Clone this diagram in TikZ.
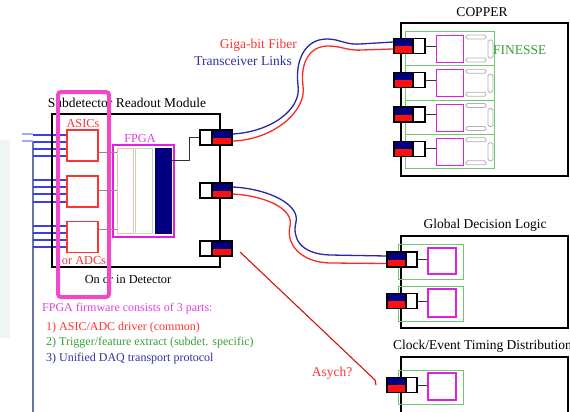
\documentclass[tikz,border=0pt]{standalone}
\usepackage{fontspec}
\setmainfont{Liberation Serif}
\definecolor{navyc}{HTML}{000080}
\definecolor{redc}{HTML}{FF1010}
\definecolor{redT}{HTML}{FF3333}
\definecolor{magT}{HTML}{E040E0}
\definecolor{magB}{HTML}{E020E0}
\definecolor{pinkR}{HTML}{F048C8}
\definecolor{greenT}{HTML}{38A038}
\definecolor{greenB}{HTML}{70C870}
\definecolor{blueT}{HTML}{3030A0}
\definecolor{fibB}{HTML}{2828A8}
\definecolor{fibR}{HTML}{FF2828}
\definecolor{inB}{HTML}{3C3CF0}
\definecolor{inL}{HTML}{A8A8F0}
\definecolor{busC}{HTML}{6878A0}
\definecolor{panelC}{HTML}{EEF6F1}
\begin{document}
\begin{tikzpicture}[x=1pt,y=-1pt,
  conn/.style={draw=black, line width=1.3pt, minimum width=31pt, minimum height=15pt, inner sep=0pt, fill=white},
  connR/.style={conn, path picture={
     \fill[navyc] ([xshift=-20pt]path picture bounding box.north east) rectangle (path picture bounding box.east);
     \fill[redc] ([xshift=-20pt]path picture bounding box.east) rectangle (path picture bounding box.south east);
     \draw[line width=1.3pt] ([xshift=-20pt]path picture bounding box.north east) -- ([xshift=-20pt]path picture bounding box.south east);}},
  connL/.style={conn, path picture={
     \fill[navyc] (path picture bounding box.north west) rectangle ([xshift=19pt]path picture bounding box.west);
     \fill[redc] (path picture bounding box.west) rectangle ([xshift=19pt]path picture bounding box.south west);
     \draw[line width=1.3pt] ([xshift=19pt]path picture bounding box.north west) -- ([xshift=19pt]path picture bounding box.south west);}},
  bigbox/.style={draw=black, line width=1.8pt, inner sep=0pt},
  asic/.style={draw=redT, line width=1.2pt, minimum width=31pt, minimum height=31pt, inner sep=0pt},
  slot/.style={draw=greenB, line width=1pt, inner sep=0pt},
  fin/.style={draw=magB, line width=1.2pt, inner sep=0pt},
  grayr/.style={draw=black!30, line width=0.8pt, rounded corners=1.5pt},
  ttl/.style={font=\fontsize{13.5}{15}\selectfont, inner sep=0pt},
  mid/.style={font=\fontsize{12.3}{14}\selectfont, inner sep=0pt},
  small/.style={font=\fontsize{12}{14}\selectfont, inner sep=0pt, anchor=west},
  fibb/.style={draw=fibB, line width=1.3pt},
  fibr/.style={draw=fibR, line width=1.3pt},
  inl/.style={draw=inB, line width=1.3pt},
  inll/.style={draw=inL, line width=1.3pt}
]
\useasboundingbox (0,0) rectangle (570,412);
\fill[white] (0,0) rectangle (570,412);
% left panel and bus
\fill[panelC] (0,140) rectangle (10,338);
\draw[busC, line width=1.3pt] (33,141) coordinate (bustop) -- (33,412) coordinate (busbot);
% ASICs
\node[asic] (a1) at (82.5,145.5) {};
\node[asic] (a2) at (82.5,191.5) {};
\node[asic] (a3) at (82.5,237) {};
% input lines
\draw[inll] (22,134) -- (33,134);
\draw[inll] (22,141) -- (33,141);
\foreach \y in {135,142,149,156} \draw[inl] (bustop |- 0,\y) -- (a1.west |- 0,\y);
\foreach \y in {180,187,194,202} \draw[inl] (bustop |- 0,\y) -- (a2.west |- 0,\y);
\foreach \y in {226,233,240,247} \draw[inl] (bustop |- 0,\y) -- (a3.west |- 0,\y);
% module
\node[bigbox, minimum width=168pt, minimum height=153pt] (mod) at (136,190.5) {};
% FPGA
\node[draw=magB, line width=1.2pt, minimum width=61pt, minimum height=92pt, inner sep=0pt] (fp) at (143.5,191) {};
\node[draw=red!30, line width=1pt, minimum width=16pt, minimum height=85pt, inner sep=0pt] (col1) at (125,190.5) {};
\node[draw=green!60!black!30, line width=1pt, minimum width=17pt, minimum height=85pt, inner sep=0pt] (col2) at (143.5,190.5) {};
\node[fill=navyc, draw=navyc, minimum width=16pt, minimum height=85pt, inner sep=0pt] (col3) at (163,190.5) {};
% gray links ASIC -> FPGA
\draw[black!45, line width=0.8pt] (a1.east |- 0,152) -- (col1.west |- 0,152);
\draw[black!45, line width=0.8pt] (a2.east |- 0,190) -- (col1.west |- 0,190);
\draw[black!45, line width=0.8pt] (a3.east |- 0,229) -- (col1.west |- 0,229);
% module connectors
\node[connR, minimum width=32pt] (m1) at (216,137.5) {};
\node[connR, minimum width=32pt] (m2) at (216,190.5) {};
\node[connR, minimum width=32pt] (m3) at (216,248.5) {};
\draw[black!80, line width=0.9pt] (col3.east |- 0,160) -- (189,160) -- (189,137.5) -- (m1.west);
% COPPER
\node[bigbox, minimum width=167pt, minimum height=153pt] (cop) at (484.5,99.5) {};
\foreach \i in {1,2,3,4}{
  \pgfmathsetmacro{\t}{31+34.25*(\i-1)}
  \node[slot, minimum width=89pt, minimum height=34.25pt, anchor=north west] (cs\i) at (405,\t) {};
  \node[fin, minimum width=27pt, minimum height=27pt, anchor=north west] (cf\i) at (436,\t+4) {};
  \draw[grayr] (466,\t+4) rectangle (486,\t+8);
  \draw[grayr] (466,\t+27) rectangle (486,\t+31);
  \draw[grayr] (488,\t+9) rectangle (493,\t+27);
  \node[connL] (c\i) at (409.5,\t+15) {};
  \draw[black!80, line width=0.9pt] (c\i.east) -- (c\i.east -| cf\i.west);
}
% GDL
\node[bigbox, minimum width=167pt, minimum height=92pt] (gdl) at (484.5,282) {};
\node[slot, minimum width=65pt, minimum height=35pt, anchor=north west] (gs1) at (398,244) {};
\node[slot, minimum width=65pt, minimum height=35pt, anchor=north west] (gs2) at (398,286) {};
\node[fin, minimum width=28pt, minimum height=26pt] (gf1) at (442,261) {};
\node[fin, minimum width=28pt, minimum height=28pt] (gf2) at (442,303) {};
\node[connL, minimum width=30pt] (g1) at (402,259.5) {};
\node[connL, minimum width=30pt] (g2) at (402,301) {};
\draw[black!80, line width=0.9pt] (g1.east) -- (g1.east -| gf1.west);
\draw[black!80, line width=0.9pt] (g2.east) -- (g2.east -| gf2.west);
% Clock
\node[bigbox, minimum width=167pt, minimum height=73pt] (clk) at (484.5,393.5) {};
\node[slot, minimum width=65pt, minimum height=34pt, anchor=north west] (ks1) at (398,370) {};
\node[fin, minimum width=28pt, minimum height=27pt] (kf1) at (442,386.5) {};
\node[connL, minimum width=30pt] (k1) at (402,385) {};
\draw[black!80, line width=0.9pt] (k1.east) -- (k1.east -| kf1.west);
% fibers
\draw[fibb] ([yshift=3.5pt]m1.east) .. controls (270,132) and (302,110) .. (298,85)
   .. controls (295,60) and (305,39) .. (327,39) .. controls (340,39) and (345,45) .. (360,44) -- ([yshift=4pt]c1.west);
\draw[fibr] ([yshift=-3.5pt]m1.east) .. controls (272,140) and (307,112) .. (303,86)
   .. controls (300,62) and (310,46) .. (328,46) .. controls (342,46) and (347,51) .. (362,50) -- ([yshift=-3pt]c1.west);
\draw[fibb] ([yshift=3.5pt]m2.east) .. controls (270,189) and (300,205) .. (296,222)
   .. controls (292,238) and (300,254) .. (330,255) -- ([yshift=3.5pt]g1.west);
\draw[fibr] ([yshift=-3.5pt]m2.east) .. controls (268,196) and (294,210) .. (290,226)
   .. controls (286,242) and (298,262) .. (330,263) -- ([yshift=-4pt]g1.west);
% redraw connector ends on top
\node[connR, minimum width=32pt] at (m1) {};
\node[connR, minimum width=32pt] at (m2) {};
\node[connL] at (c1) {};
\node[connL, minimum width=30pt] at (g1) {};
% Asych line
\coordinate (as1) at (240,252);
\coordinate (as2) at (375,380);
\coordinate (as3) at (376,385);
\draw[redc!85!black, line width=1.1pt] (as1) -- (as2) -- (as3);
% texts
\node[ttl] (tmod) at (127,103) {Subdetector Readout Module};
\node[mid, text=redT] (tasic) at (83,123) {ASICs};
\node[mid, text=redT] (tadc) at (84,260) {or ADCs};
\node[mid] (tdet) at (128,279) {On or in Detector};
\node[mid, text=magT] (tfpga) at (140,138) {FPGA};
\node[ttl, text=redT, anchor=east] (tgiga) at (297,45) {Giga-bit Fiber};
\node[ttl, text=blueT, anchor=east] (ttrans) at (292,61) {Transceiver Links};
\node[ttl] (tcop) at (482,12) {COPPER};
\node[ttl, text=greenT, anchor=west] (tfin) at (493,50) {FINESSE};
\node[ttl] (tgdl) at (485,225) {Global Decision Logic};
\node[ttl, anchor=west] (tclk) at (393,346) {Clock/Event Timing Distribution};
\node[ttl, text=redT] (tasy) at (332,373) {Asych?};
\node[small, text=magT] (f0) at (42,309) {FPGA firmware consists of 3 parts:};
\node[small, text=redT] (f1) at (46,328) {1) ASIC/ADC driver (common)};
\node[small, text=greenT] (f2) at (46,343) {2) Trigger/feature extract (subdet. specific)};
\node[small, text=blueT] (f3) at (46,359) {3) Unified DAQ transport protocol};
% pink highlight
\draw[pinkR, line width=4pt, rounded corners=3pt] (58,92) rectangle (109,297);
\end{tikzpicture}
\end{document}
